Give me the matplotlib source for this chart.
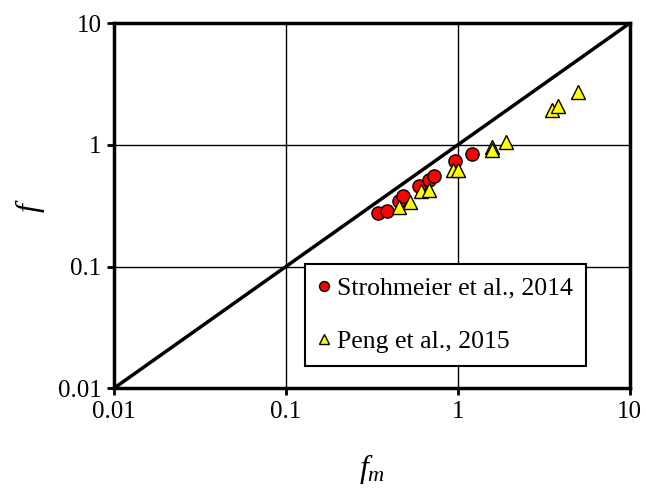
import matplotlib
matplotlib.use("Agg")
import matplotlib.pyplot as plt
import numpy as np

plt.rcParams['font.family'] = ['Liberation Serif', 'DejaVu Serif']
plt.rcParams['mathtext.fontset'] = 'custom'
plt.rcParams['mathtext.it'] = 'Liberation Serif:italic'
plt.rcParams['mathtext.rm'] = 'Liberation Serif'

strohmeier_fm = [0.344, 0.388, 0.456, 0.481, 0.593, 0.678, 0.724, 0.962, 1.20]
strohmeier_f = [0.275, 0.284, 0.343, 0.377, 0.455, 0.517, 0.550, 0.730, 0.844]

peng_fm = [0.456, 0.526, 0.610, 0.681, 0.931, 1.00, 1.57, 1.58, 1.90, 3.52, 3.83, 5.0]
peng_f = [0.308, 0.337, 0.420, 0.428, 0.624, 0.624, 0.958, 0.91, 1.06, 1.94, 2.09, 2.73]

line_x = [0.01, 10]
line_y = [0.01, 10]

xticks = [0.01, 0.1, 1, 10]
xticklabels = ['0.01', '0.1', '1', '10']

fig = plt.figure(figsize=(6.46, 4.92), dpi=100)
ax = fig.add_axes([0.1765, 0.211, 0.7985, 0.742])
ax.set_xscale('log')
ax.set_yscale('log')
ax.set_xlim(0.01, 10)
ax.set_ylim(0.01, 10)

ax.grid(True, which='major', color='black', linewidth=1.0)
ax.minorticks_off()
ax.set_axisbelow(True)

ax.plot(line_x, line_y, color='black', linewidth=2.5, zorder=2)

ax.plot(strohmeier_fm, strohmeier_f, linestyle='none', marker='o', markersize=9.5,
        markerfacecolor='#ff0000', markeredgecolor='black', markeredgewidth=1.0,
        label='Strohmeier et al., 2014', zorder=3)
ax.plot(peng_fm, peng_f, linestyle='none', marker='^', markersize=10,
        markerfacecolor='#ffff00', markeredgecolor='black', markeredgewidth=1.0,
        label='Peng et al., 2015', zorder=4)

ax.set_xticks(xticks)
ax.set_xticklabels(xticklabels)
ax.set_yticks(xticks)
ax.set_yticklabels(xticklabels)
ax.tick_params(axis='both', labelsize=18, length=5, width=2, direction='out', color='black', pad=4)

for s in ax.spines.values():
    s.set_linewidth(2.5)
    s.set_color('black')

ax.set_xlabel('$f_m$', fontsize=23, labelpad=21)
ax.set_ylabel('$f$', fontsize=23, labelpad=8)

leg = ax.legend(loc='lower right', bbox_to_anchor=(0.915, 0.06), fontsize=18.5,
                frameon=True, fancybox=False, edgecolor='black', framealpha=1,
                handletextpad=0.3, borderpad=0.5, labelspacing=1.2,
                handlelength=0.45, markerscale=0.75, borderaxespad=0)
leg.get_frame().set_linewidth(1.5)

fig.savefig('out.png', dpi=100)
